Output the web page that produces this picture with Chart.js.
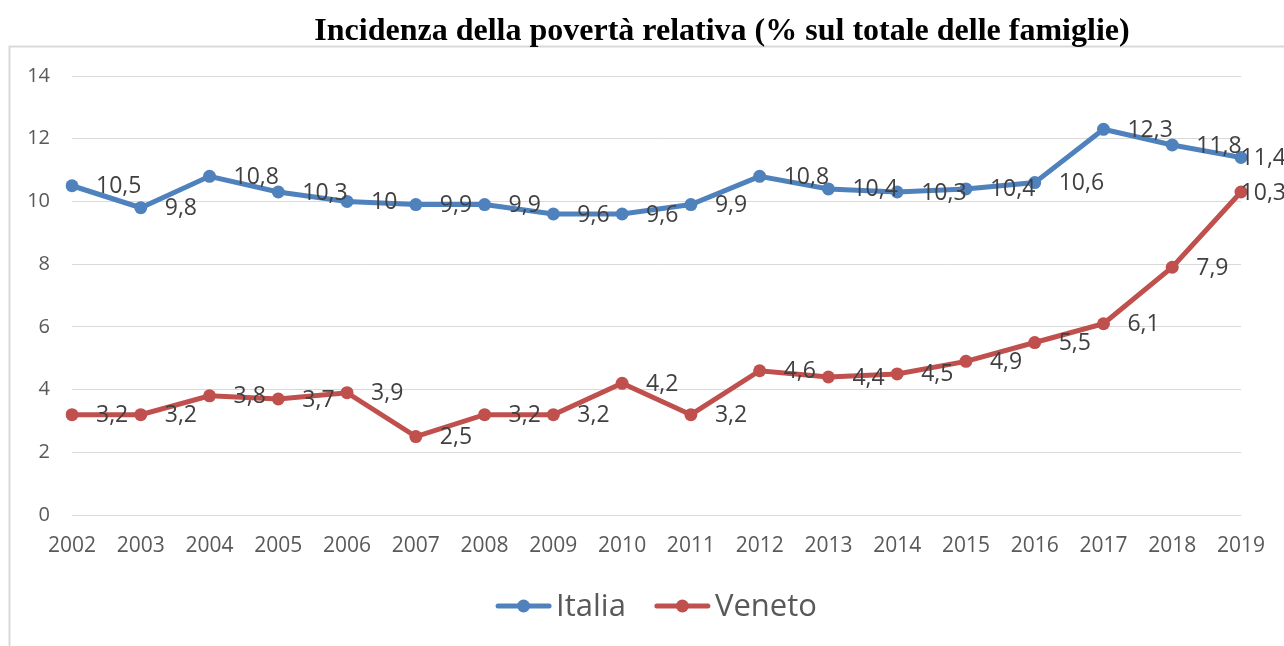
<!DOCTYPE html>
<html>
<head>
<meta charset="utf-8">
<script src="https://cdn.jsdelivr.net/npm/chart.js@4"></script>
<style>
  html, body { margin: 0; padding: 0; background: #fff; }
  #box { width: 1284px; height: 646px; }
</style>
</head>
<body>
<div id="box"><canvas id="povChart"></canvas></div>
<script>
// anni (asse x)
var anni = ['2002','2003','2004','2005','2006','2007','2008','2009','2010','2011','2012','2013','2014','2015','2016','2017','2018','2019'];
// incidenza povertà relativa, % famiglie
var italia = [10.5, 9.8, 10.8, 10.3, 10, 9.9, 9.9, 9.6, 9.6, 9.9, 10.8, 10.4, 10.3, 10.4, 10.6, 12.3, 11.8, 11.4];
var veneto = [3.2, 3.2, 3.8, 3.7, 3.9, 2.5, 3.2, 3.2, 4.2, 3.2, 4.6, 4.4, 4.5, 4.9, 5.5, 6.1, 7.9, 10.3];
var titolo = 'Incidenza della povertà relativa (% sul totale delle famiglie)';

var blu = '#4f81bd';
var rosso = '#c0504d';
var sans = '"Open Sans", sans-serif';

// cornice grigia + titolo
var framePlugin = {
    id: 'frame',
    beforeDraw: function(chart) {
        var ctx = chart.ctx;
        ctx.save();
        ctx.strokeStyle = '#d9d9d9';
        ctx.lineWidth = 2;
        ctx.beginPath();
        ctx.moveTo(9.5, 646);
        ctx.lineTo(9.5, 46.5);
        ctx.lineTo(1284, 46.5);
        ctx.stroke();
        ctx.restore();
    },
    afterDraw: function(chart) {
        var ctx = chart.ctx;
        ctx.save();
        ctx.font = 'bold 32px "Liberation Serif", "Times New Roman", serif';
        ctx.fillStyle = '#000';
        ctx.textAlign = 'center';
        ctx.textBaseline = 'alphabetic';
        ctx.fillText(titolo, 722, 40);
        ctx.restore();
    }
};

// etichette dei valori a destra dei punti (tenute dentro il canvas)
var labelPlugin = {
    id: 'valueLabels',
    afterDatasetsDraw: function(chart) {
        var ctx = chart.ctx;
        ctx.save();
        ctx.font = '23px ' + sans;
        ctx.fillStyle = '#404040';
        ctx.textAlign = 'left';
        ctx.textBaseline = 'middle';
        chart.data.datasets.forEach(function(ds, i) {
            chart.getDatasetMeta(i).data.forEach(function(pt, j) {
                var txt = String(ds.data[j]).replace('.', ',');
                var w = ctx.measureText(txt).width;
                var x = Math.min(pt.x + 24, chart.width - w + 2);
                ctx.fillText(txt, x, pt.y + 1);
            });
        });
        ctx.restore();
    }
};

// legenda in basso: linea con pallino + nome
var legendPlugin = {
    id: 'bottomLegend',
    afterDraw: function(chart) {
        var ctx = chart.ctx;
        var area = chart.chartArea;
        ctx.save();
        ctx.font = '31px ' + sans;
        ctx.textBaseline = 'middle';
        var lineW = 55, gap = 5, itemGap = 29;
        var items = chart.data.datasets.map(function(ds) {
            return { text: ds.label, color: ds.borderColor, w: ctx.measureText(ds.label).width };
        });
        var total = 0;
        items.forEach(function(it, k) { total += lineW + gap + it.w + (k ? itemGap : 0); });
        var x = (area.left + area.right) / 2 - total / 2;
        var y = 606;
        items.forEach(function(it) {
            ctx.strokeStyle = it.color;
            ctx.lineWidth = 5;
            ctx.lineCap = 'round';
            ctx.beginPath();
            ctx.moveTo(x + 2, y);
            ctx.lineTo(x + lineW - 2, y);
            ctx.stroke();
            ctx.fillStyle = it.color;
            ctx.beginPath();
            ctx.arc(x + lineW / 2, y, 6.5, 0, Math.PI * 2);
            ctx.fill();
            ctx.fillStyle = '#595959';
            ctx.fillText(it.text, x + lineW + gap, y + 1);
            x += lineW + gap + it.w + itemGap;
        });
        ctx.restore();
    }
};

var ctx = document.getElementById('povChart').getContext('2d');
var povChart = new Chart(ctx, {
    type: 'line',
    data: {
        labels: anni,
        datasets: [{
            label: 'Italia',
            data: italia,
            borderColor: blu,
            backgroundColor: blu,
            borderWidth: 5,
            pointRadius: 6.5,
            pointHoverRadius: 6.5,
            pointBorderWidth: 0,
            tension: 0
        }, {
            label: 'Veneto',
            data: veneto,
            borderColor: rosso,
            backgroundColor: rosso,
            borderWidth: 5,
            pointRadius: 6.5,
            pointHoverRadius: 6.5,
            pointBorderWidth: 0,
            tension: 0
        }]
    },
    options: {
        responsive: true,
        maintainAspectRatio: false,
        animation: false,
        events: [],
        layout: {
            padding: { left: 0, right: 43, top: 76, bottom: 0 }
        },
        plugins: {
            legend: { display: false },
            title: { display: false },
            tooltip: { enabled: false }
        },
        scales: {
            x: {
                grid: { display: false, drawTicks: false },
                border: { display: false },
                ticks: {
                    color: '#595959',
                    font: { family: sans, size: 21 },
                    padding: 18,
                    maxRotation: 0,
                    autoSkip: false
                },
                afterFit: function(scale) { scale.height = 131; }
            },
            y: {
                min: 0,
                max: 14,
                grid: { color: '#d9d9d9', lineWidth: 1, drawTicks: false },
                border: { display: false },
                ticks: {
                    stepSize: 2,
                    color: '#595959',
                    font: { family: sans, size: 20 },
                    padding: 22
                },
                afterFit: function(scale) { scale.width = 72; }
            }
        }
    },
    plugins: [framePlugin, labelPlugin, legendPlugin]
});
</script>
</body>
</html>
